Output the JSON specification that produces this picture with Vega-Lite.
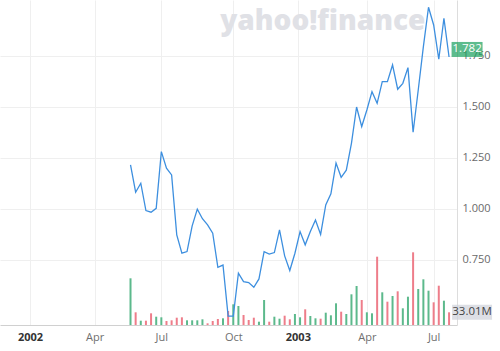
{
  "$schema": "https://vega.github.io/schema/vega-lite/v6.json",
  "width": 457,
  "height": 325,
  "autosize": {"type": "none"},
  "padding": {"left": 0, "top": 0, "right": 43, "bottom": 26},
  "background": "white",
  "config": {"view": {"stroke": null}, "font": "Open Sans"},
  "datasets": {
    "weekly": [
      {"date": "2002-05-20", "close": 1.216, "volume": 121400000, "dir": "up"},
      {"date": "2002-05-27", "close": 1.082, "volume": 33000000, "dir": "down"},
      {"date": "2002-06-03", "close": 1.126, "volume": 11200000, "dir": "up"},
      {"date": "2002-06-10", "close": 0.992, "volume": 11200000, "dir": "down"},
      {"date": "2002-06-17", "close": 0.984, "volume": 30400000, "dir": "down"},
      {"date": "2002-06-24", "close": 1.003, "volume": 21600000, "dir": "up"},
      {"date": "2002-07-01", "close": 1.281, "volume": 20000000, "dir": "up"},
      {"date": "2002-07-08", "close": 1.200, "volume": 10400000, "dir": "down"},
      {"date": "2002-07-15", "close": 1.167, "volume": 12200000, "dir": "down"},
      {"date": "2002-07-22", "close": 0.873, "volume": 19000000, "dir": "down"},
      {"date": "2002-07-29", "close": 0.783, "volume": 20000000, "dir": "down"},
      {"date": "2002-08-05", "close": 0.791, "volume": 12200000, "dir": "up"},
      {"date": "2002-08-12", "close": 0.917, "volume": 12200000, "dir": "up"},
      {"date": "2002-08-19", "close": 0.999, "volume": 12200000, "dir": "up"},
      {"date": "2002-08-26", "close": 0.952, "volume": 14800000, "dir": "up"},
      {"date": "2002-09-02", "close": 0.922, "volume": 4400000, "dir": "down"},
      {"date": "2002-09-09", "close": 0.881, "volume": 10400000, "dir": "down"},
      {"date": "2002-09-16", "close": 0.714, "volume": 15600000, "dir": "down"},
      {"date": "2002-09-23", "close": 0.725, "volume": 17400000, "dir": "up"},
      {"date": "2002-09-30", "close": 0.475, "volume": 36400000, "dir": "down"},
      {"date": "2002-10-07", "close": 0.475, "volume": 53800000, "dir": "up"},
      {"date": "2002-10-14", "close": 0.685, "volume": 49400000, "dir": "up"},
      {"date": "2002-10-21", "close": 0.644, "volume": 26000000, "dir": "down"},
      {"date": "2002-10-28", "close": 0.639, "volume": 13000000, "dir": "down"},
      {"date": "2002-11-04", "close": 0.616, "volume": 19000000, "dir": "down"},
      {"date": "2002-11-11", "close": 0.657, "volume": 8600000, "dir": "up"},
      {"date": "2002-11-18", "close": 0.791, "volume": 65000000, "dir": "up"},
      {"date": "2002-11-25", "close": 0.779, "volume": 8600000, "dir": "down"},
      {"date": "2002-12-02", "close": 0.786, "volume": 21600000, "dir": "up"},
      {"date": "2002-12-09", "close": 0.897, "volume": 16400000, "dir": "up"},
      {"date": "2002-12-16", "close": 0.770, "volume": 24200000, "dir": "down"},
      {"date": "2002-12-23", "close": 0.698, "volume": 14800000, "dir": "down"},
      {"date": "2002-12-30", "close": 0.783, "volume": 28600000, "dir": "up"},
      {"date": "2003-01-06", "close": 0.889, "volume": 20000000, "dir": "up"},
      {"date": "2003-01-13", "close": 0.824, "volume": 40800000, "dir": "down"},
      {"date": "2003-01-20", "close": 0.889, "volume": 23400000, "dir": "up"},
      {"date": "2003-01-27", "close": 0.946, "volume": 17400000, "dir": "up"},
      {"date": "2003-02-03", "close": 0.875, "volume": 16400000, "dir": "down"},
      {"date": "2003-02-10", "close": 1.020, "volume": 32000000, "dir": "up"},
      {"date": "2003-02-17", "close": 1.074, "volume": 25200000, "dir": "up"},
      {"date": "2003-02-24", "close": 1.225, "volume": 56400000, "dir": "up"},
      {"date": "2003-03-03", "close": 1.155, "volume": 34600000, "dir": "down"},
      {"date": "2003-03-10", "close": 1.190, "volume": 28600000, "dir": "up"},
      {"date": "2003-03-17", "close": 1.322, "volume": 79800000, "dir": "up"},
      {"date": "2003-03-24", "close": 1.500, "volume": 101400000, "dir": "up"},
      {"date": "2003-03-31", "close": 1.404, "volume": 65000000, "dir": "down"},
      {"date": "2003-04-07", "close": 1.485, "volume": 33000000, "dir": "up"},
      {"date": "2003-04-14", "close": 1.575, "volume": 30400000, "dir": "up"},
      {"date": "2003-04-21", "close": 1.518, "volume": 177600000, "dir": "down"},
      {"date": "2003-04-28", "close": 1.624, "volume": 85000000, "dir": "up"},
      {"date": "2003-05-05", "close": 1.624, "volume": 60600000, "dir": "down"},
      {"date": "2003-05-12", "close": 1.706, "volume": 75400000, "dir": "up"},
      {"date": "2003-05-19", "close": 1.587, "volume": 87600000, "dir": "down"},
      {"date": "2003-05-26", "close": 1.616, "volume": 43400000, "dir": "up"},
      {"date": "2003-06-02", "close": 1.693, "volume": 73600000, "dir": "up"},
      {"date": "2003-06-09", "close": 1.376, "volume": 189000000, "dir": "down"},
      {"date": "2003-06-16", "close": 1.583, "volume": 93600000, "dir": "up"},
      {"date": "2003-06-23", "close": 1.796, "volume": 118800000, "dir": "up"},
      {"date": "2003-06-30", "close": 1.989, "volume": 89200000, "dir": "up"},
      {"date": "2003-07-07", "close": 1.902, "volume": 59000000, "dir": "down"},
      {"date": "2003-07-14", "close": 1.734, "volume": 102200000, "dir": "down"},
      {"date": "2003-07-21", "close": 1.935, "volume": 63200000, "dir": "up"},
      {"date": "2003-07-28", "close": 1.745, "volume": 33010000, "dir": "down"}
    ]
  },
  "encoding": {
    "x": {
      "field": "date",
      "type": "temporal",
      "scale": {
        "type": "utc",
        "domain": [
          {"year": 2001, "month": 11, "date": 30, "utc": true},
          {"year": 2003, "month": 8, "date": 1, "utc": true}
        ]
      },
      "axis": {
        "values": [
          {"year": 2002, "month": 1, "date": 3, "utc": true},
          {"year": 2002, "month": 4, "date": 1, "utc": true},
          {"year": 2002, "month": 7, "date": 1, "utc": true},
          {"year": 2002, "month": 10, "date": 7, "utc": true},
          {"year": 2003, "month": 1, "date": 3, "utc": true},
          {"year": 2003, "month": 4, "date": 7, "utc": true},
          {"year": 2003, "month": 7, "date": 7, "utc": true}
        ],
        "labelExpr": "utcmonth(datum.value) == 0 ? utcFormat(datum.value, '%Y') : utcFormat(datum.value, '%b')",
        "labelFontWeight": {"condition": {"test": "utcmonth(datum.value) == 0", "value": "bold"}, "value": "normal"},
        "labelColor": {"condition": {"test": "utcmonth(datum.value) == 0", "value": "#333333"}, "value": "#6f6f6f"},
        "labelFontSize": 11,
        "labelPadding": 6,
        "ticks": false,
        "grid": true,
        "gridColor": "#efefef",
        "domainColor": "#d0d0d0",
        "title": null
      }
    }
  },
  "layer": [
    {
      "layer": [
        {
          "data": {"name": "weekly"},
          "mark": {"type": "bar", "size": 2},
          "encoding": {
            "y": {"field": "volume", "type": "quantitative", "scale": {"domain": [0, 845000000], "nice": false}, "axis": null},
            "color": {"field": "dir", "type": "nominal", "scale": {"domain": ["up", "down"], "range": ["#5cb98c", "#ee7d8a"]}, "legend": null}
          }
        },
        {
          "data": {"values": [{"date": "2003-07-28", "volume": 33010000}]},
          "mark": {"type": "tick", "orient": "horizontal", "size": 40, "thickness": 15, "xOffset": 23, "color": "#cfd2da"},
          "encoding": {"y": {"field": "volume", "type": "quantitative"}}
        },
        {
          "data": {"values": [{"date": "2003-07-28", "volume": 33010000}]},
          "mark": {"type": "text", "xOffset": 23, "align": "center", "baseline": "middle", "fontSize": 11.5, "color": "#454545"},
          "encoding": {
            "y": {"field": "volume", "type": "quantitative"},
            "text": {"field": "volume", "type": "quantitative", "format": ".4s"}
          }
        }
      ]
    },
    {
      "layer": [
        {
          "data": {"values": [{"date": "2003-02-06", "close": 1.915, "label": "yahoo!finance"}]},
          "mark": {"type": "text", "fontSize": 28, "fontWeight": 800, "color": "#e0e1e6", "align": "center", "baseline": "middle"},
          "encoding": {
            "y": {"field": "close", "type": "quantitative"},
            "text": {"field": "label"}
          }
        },
        {
          "data": {"name": "weekly"},
          "mark": {"type": "line", "color": "#3d8fdf", "strokeWidth": 1.3},
          "encoding": {
            "y": {
              "field": "close",
              "type": "quantitative",
              "scale": {"domain": [0.431, 2.0245], "nice": false, "zero": false},
              "axis": {
                "orient": "right",
                "values": [0.75, 1.0, 1.25, 1.5, 1.75],
                "format": ".3f",
                "grid": true,
                "gridColor": "#efefef",
                "domainColor": "#dddddd",
                "ticks": false,
                "labelPadding": 5,
                "labelFontSize": 11,
                "labelColor": "#6a6a6a",
                "title": null
              }
            }
          }
        },
        {
          "data": {"values": [{"date": "2003-07-28", "close": 1.782}]},
          "mark": {"type": "tick", "orient": "horizontal", "size": 31, "thickness": 15, "xOffset": 18, "color": "#18a05c"},
          "encoding": {"y": {"field": "close", "type": "quantitative"}}
        },
        {
          "data": {"values": [{"date": "2003-07-28", "close": 1.782}]},
          "mark": {"type": "text", "xOffset": 18, "align": "center", "baseline": "middle", "fontSize": 11.5, "color": "white"},
          "encoding": {
            "y": {"field": "close", "type": "quantitative"},
            "text": {"field": "close", "type": "quantitative", "format": ".3f"}
          }
        }
      ]
    }
  ],
  "resolve": {"scale": {"y": "independent"}}
}
